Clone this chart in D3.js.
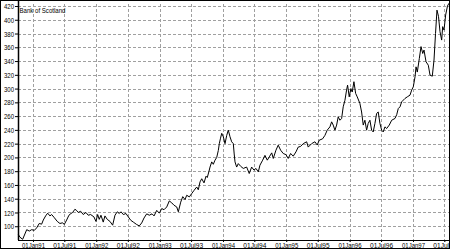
<!DOCTYPE html>
<html><head><meta charset="utf-8">
<script src="https://cdn.jsdelivr.net/npm/d3@7"></script>
<style>
html,body{margin:0;padding:0;background:#fff;}
svg{display:block;}
text{font-family:"Liberation Sans",Arial,sans-serif;fill:#000;}
</style></head>
<body><svg id="c" width="450" height="250"></svg>
<script>
// time in decimal years
const times = [1990.768,1990.795,1990.837,1990.901,1990.942,1990.979,1991.021,1991.058,1991.099,1991.137,1991.163,1991.2,1991.232,1991.268,1991.295,1991.332,1991.384,1991.426,1991.469,1991.494,1991.532,1991.568,1991.6,1991.627,1991.663,1991.69,1991.715,1991.753,1991.794,1991.837,1991.873,1991.911,1991.963,1991.995,1992.022,1992.047,1992.074,1992.11,1992.137,1992.173,1992.216,1992.258,1992.295,1992.331,1992.363,1992.39,1992.426,1992.468,1992.505,1992.543,1992.584,1992.637,1992.678,1992.716,1992.753,1992.795,1992.836,1992.879,1992.911,1992.953,1992.994,1993.032,1993.068,1993.111,1993.152,1993.19,1993.226,1993.269,1993.294,1993.332,1993.364,1993.4,1993.427,1993.468,1993.506,1993.542,1993.585,1993.61,1993.637,1993.664,1993.7,1993.732,1993.752,1993.779,1993.795,1993.822,1993.847,1993.874,1993.901,1993.926,1993.942,1993.961,1993.98,1994.005,1994.032,1994.059,1994.084,1994.111,1994.137,1994.163,1994.177,1994.19,1994.216,1994.242,1994.28,1994.321,1994.374,1994.415,1994.453,1994.49,1994.521,1994.558,1994.584,1994.627,1994.663,1994.7,1994.732,1994.77,1994.795,1994.837,1994.873,1994.911,1994.952,1994.995,1995.031,1995.069,1995.11,1995.153,1995.189,1995.227,1995.268,1995.322,1995.347,1995.401,1995.453,1995.489,1995.521,1995.574,1995.611,1995.647,1995.69,1995.717,1995.742,1995.769,1995.796,1995.821,1995.848,1995.875,1995.9,1995.927,1995.953,1995.969,1995.995,1996.021,1996.042,1996.069,1996.096,1996.121,1996.163,1996.19,1996.216,1996.242,1996.269,1996.294,1996.321,1996.348,1996.373,1996.4,1996.427,1996.452,1996.479,1996.506,1996.531,1996.558,1996.585,1996.626,1996.664,1996.716,1996.743,1996.768,1996.795,1996.822,1996.874,1996.91,1996.953,1996.979,1997.005,1997.032,1997.048,1997.068,1997.1,1997.127,1997.154,1997.174,1997.206,1997.242,1997.269,1997.305,1997.332,1997.356,1997.379,1997.403,1997.427,1997.453,1997.469,1997.49,1997.516,1997.545,1997.569];
const prices = [88,84,81,95,93,95,94,97.6,104,103,109,115,119,115,117,113,107,104,105,102.5,109,116,118.5,120,124.7,122.8,120,121.8,117,120,116,117,113.6,107,117,110,116,106,115,110,107,101.5,116,121,118.5,121,117,118.5,113.6,108.7,106,102.5,100.5,104.8,112,118,116,118,115,123,119,125.7,124,128,136.8,134,130.5,128,121,135,143,138.8,145,142.6,147.5,152,157,153,164.4,169,163,172.7,170.8,180,186,193.5,190,196,200,210,220,228,235,230,220,232,239.6,230,222.7,220,205,193.5,186,191,187,184,186,176.6,186,181.5,184,179,188.7,196,203,196,200.8,206.6,198.5,210.5,217.8,210.5,205.7,204,198.5,205.7,201.8,208,215,216,220,222.7,215,220,222.7,218,225,227,232,239.6,244.4,251.7,247,239.6,247,259,254,256.6,273.5,283,297.8,305,288,300,295,310,293,288,278.5,266,247,254,239.6,249.4,254,239.6,237,249.4,263.9,266,249.4,239.6,237,244.4,242,247,254,256.6,262,271,273.5,280.8,285.7,288,290.5,297.8,302.6,317,331.6,324,343.7,361,351,356,339,334,319.6,318,341.5,380,414,405,382.7,370.5,390,385,407,420,424];
const yTicks = [100,120,140,160,180,200,220,240,260,280,300,320,340,360,380,400,420];
const xTickDates = ["1991-01-01","1991-07-01","1992-01-01","1992-07-01","1993-01-01","1993-07-01","1994-01-01","1994-07-01","1995-01-01","1995-07-01","1996-01-01","1996-07-01","1997-01-01","1997-07-01"];
const seriesName = "Bank of Scotland";

function toDate(t){
  const y = Math.floor(t);
  const a = new Date(y,0,1), b = new Date(y+1,0,1);
  return new Date(a.getTime() + (t-y)*(b-a));
}
const data = times.map((t,i)=>({d:toDate(t), v:prices[i]}));
const parse = d3.timeParse("%Y-%m-%d");
const xt = xTickDates.map(parse);

const L=18, R=449, T=6, B=240;
const svg = d3.select("#c");
const x = d3.scaleTime().domain(d3.extent(data,d=>d.d)).range([L+0.3,R]);
const y = d3.scaleLinear().domain([80,420]).range([B,T]);

// outer frame
svg.append("rect").attr("x",0.5).attr("y",0.5).attr("width",449).attr("height",248)
  .attr("fill","none").attr("stroke","#000").attr("stroke-width",1);

// grid
const g = svg.append("g");
g.selectAll("line.h").data(yTicks).join("line")
  .attr("x1",L).attr("x2",R).attr("y1",d=>Math.round(y(d))+0.5).attr("y2",d=>Math.round(y(d))+0.5)
  .attr("stroke","#a0a0a0").attr("stroke-dasharray","3,2").attr("stroke-width",1);
g.selectAll("line.v").data(xt).join("line")
  .attr("y1",B+2).attr("y2",T-3).attr("x1",d=>Math.round(x(d))+0.5).attr("x2",d=>Math.round(x(d))+0.5)
  .attr("stroke","#a0a0a0").attr("stroke-dasharray","3,2").attr("stroke-width",1);

// axes
const ya = d3.axisLeft(y).tickValues(yTicks).tickSize(3).tickPadding(1);
svg.append("g").attr("transform",`translate(${L},0)`).call(ya)
  .call(s=>s.select(".domain").attr("d",`M0.5,1V${B}`).attr("stroke-width",1.5))
  .call(s=>s.selectAll("text").attr("font-size","8px").attr("font-family",null)
     .attr("textLength",10).attr("lengthAdjust","spacingAndGlyphs"));
const xa = d3.axisBottom(x).tickValues(xt).tickFormat(d3.timeFormat("%d%b%y")).tickSize(2).tickPadding(0);
svg.append("g").attr("transform",`translate(0,${B})`).call(xa)
  .call(s=>s.select(".domain").attr("d",`M${L},0.5H${R+1}`))
  .call(s=>s.selectAll("text").attr("font-size","8px").attr("font-family",null)
     .attr("textLength",23).attr("lengthAdjust","spacingAndGlyphs"));

// line
svg.append("path").datum(data)
  .attr("fill","none").attr("stroke","#000").attr("stroke-width",1)
  .attr("d",d3.line().x(d=>x(d.d)).y(d=>y(d.v)));

svg.append("text").attr("x",L+1.5).attr("y",T+7).attr("font-size","7.5px")
  .attr("textLength",46).attr("lengthAdjust","spacingAndGlyphs").text(seriesName);
</script></body></html>
